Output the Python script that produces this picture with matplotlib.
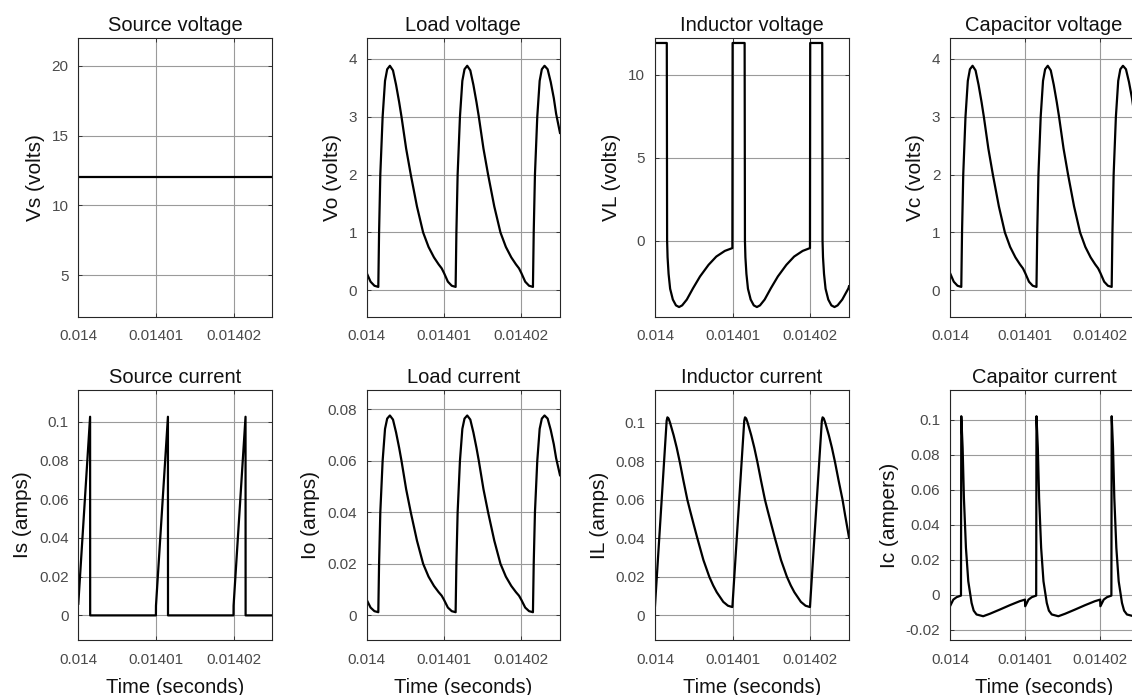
import matplotlib
matplotlib.use("Agg")
import matplotlib.pyplot as plt
import numpy as np

plt.rcParams['font.family'] = ['Liberation Sans', 'DejaVu Sans']

# time in microseconds after t = 0.014 s
x_ticks = [0.014, 0.01401, 0.01402]
x_tick_labels = ["0.014", "0.01401", "0.01402"]

vs_t = [0.0, 25.0]
vs_volts = [12.0, 12.0]

vo_t = [0.0, 0.5, 1.0, 1.5, 1.6, 1.76, 2.06, 2.37, 2.65, 3.0, 3.4, 3.8, 4.2, 4.5, 5.1, 5.7, 6.5, 7.3, 8.0, 8.7, 9.3, 9.7,
        10.0, 10.5, 11.0, 11.5, 11.6, 11.76, 12.06, 12.37, 12.65, 13.0, 13.4, 13.8, 14.2, 14.5, 15.1, 15.7, 16.5, 17.3, 18.0, 18.7, 19.3, 19.7,
        20.0, 20.5, 21.0, 21.5, 21.6, 21.76, 22.06, 22.37, 22.65, 23.0, 23.4, 23.8, 24.2, 24.5, 25.0]
vo_volts = [0.30, 0.15, 0.08, 0.06, 1.0, 2.0, 3.0, 3.62, 3.82, 3.88, 3.80, 3.55, 3.25, 3.0, 2.45, 2.0, 1.45, 1.0, 0.75, 0.57, 0.45, 0.38,
            0.30, 0.15, 0.08, 0.06, 1.0, 2.0, 3.0, 3.62, 3.82, 3.88, 3.80, 3.55, 3.25, 3.0, 2.45, 2.0, 1.45, 1.0, 0.75, 0.57, 0.45, 0.38,
            0.30, 0.15, 0.08, 0.06, 1.0, 2.0, 3.0, 3.62, 3.82, 3.88, 3.82, 3.60, 3.32, 3.05, 2.72]

# capacitor sits across the load, reads the same as vo
vc_t = vo_t
vc_volts = vo_volts

vl_t = [0.0, 1.52, 1.56, 1.62, 1.75, 1.95, 2.3, 2.7, 3.1, 3.5, 4.1, 4.9, 5.8, 6.9, 7.9, 9.0, 9.97,
        10.0, 11.55, 11.59, 11.65, 11.78, 11.98, 12.33, 12.73, 13.13, 13.53, 14.13, 14.93, 15.83, 16.93, 17.93, 19.03, 19.97,
        20.0, 21.55, 21.59, 21.65, 21.78, 21.98, 22.33, 22.73, 23.13, 23.53, 24.13, 24.93, 25.0]
vl_volts = [11.9, 11.9, 0.0, -1.0, -2.0, -2.9, -3.55, -3.9, -4.0, -3.9, -3.55, -2.87, -2.16, -1.46, -0.96, -0.62, -0.45,
            11.9, 11.9, 0.0, -1.0, -2.0, -2.9, -3.55, -3.9, -4.0, -3.9, -3.55, -2.87, -2.16, -1.46, -0.96, -0.62, -0.45,
            11.9, 11.9, 0.0, -1.0, -2.0, -2.9, -3.55, -3.9, -4.0, -3.9, -3.55, -2.87, -2.75]

is_t = [0.0, 1.52, 1.53, 10.0, 10.01, 11.55, 11.56, 20.0, 20.01, 21.55, 21.56, 25.0]
is_amps = [0.006, 0.1025, 0.0, 0.0, 0.005, 0.1025, 0.0, 0.0, 0.005, 0.1025, 0.0, 0.0]

io_t = vo_t
io_amps = [0.0060, 0.0030, 0.0016, 0.0012, 0.020, 0.040, 0.060, 0.0724, 0.0764, 0.0776, 0.0760, 0.0710, 0.0650, 0.060, 0.049, 0.040, 0.029, 0.020, 0.015, 0.0114, 0.009, 0.0076,
           0.0060, 0.0030, 0.0016, 0.0012, 0.020, 0.040, 0.060, 0.0724, 0.0764, 0.0776, 0.0760, 0.0710, 0.0650, 0.060, 0.049, 0.040, 0.029, 0.020, 0.015, 0.0114, 0.009, 0.0076,
           0.0060, 0.0030, 0.0016, 0.0012, 0.020, 0.040, 0.060, 0.0724, 0.0764, 0.0776, 0.0764, 0.0720, 0.0664, 0.061, 0.0544]

il_t = [0.0, 1.5, 1.6, 1.75, 1.94, 2.4, 2.8, 3.2, 3.66, 4.17, 4.5, 5.0, 5.46, 6.24, 7.0, 7.5, 7.96, 8.8, 9.4, 9.97,
        11.5, 11.6, 11.75, 11.94, 12.4, 12.8, 13.2, 13.66, 14.17, 14.5, 15.0, 15.46, 16.24, 17.0, 17.5, 17.96, 18.8, 19.4, 19.97,
        21.5, 21.6, 21.75, 21.94, 22.4, 22.8, 23.2, 23.66, 24.17, 24.5, 25.0]
il_amps = [0.005, 0.1010, 0.1028, 0.1022, 0.1000, 0.0935, 0.0870, 0.0795, 0.0700, 0.0600, 0.0547, 0.0470, 0.0400, 0.0287, 0.0200, 0.0155, 0.0120, 0.0070, 0.0050, 0.0043,
           0.1010, 0.1028, 0.1022, 0.1000, 0.0935, 0.0870, 0.0795, 0.0700, 0.0600, 0.0547, 0.0470, 0.0400, 0.0287, 0.0200, 0.0155, 0.0120, 0.0070, 0.0050, 0.0043,
           0.1010, 0.1028, 0.1022, 0.1000, 0.0935, 0.0870, 0.0795, 0.0700, 0.0600, 0.0520, 0.0405]

ic_t = [0.0, 0.44, 0.88, 1.46, 1.5, 1.68, 1.85, 2.12, 2.43, 2.87, 3.15, 3.53, 4.41, 5.3, 6.62, 7.95, 9.27, 9.97,
        10.0, 10.44, 10.88, 11.46, 11.5, 11.68, 11.85, 12.12, 12.43, 12.87, 13.15, 13.53, 14.41, 15.3, 16.62, 17.95, 19.27, 19.97,
        20.0, 20.44, 20.88, 21.46, 21.5, 21.68, 21.85, 22.12, 22.43, 22.87, 23.15, 23.53, 24.41, 25.0]
ic_amps = [-0.0067, -0.0029, -0.0015, -0.0006, 0.102, 0.0838, 0.0552, 0.0267, 0.0076, -0.0048, -0.0092, -0.0114, -0.0124, -0.0110, -0.0086, -0.0061, -0.0038, -0.0029,
           -0.0067, -0.0029, -0.0015, -0.0006, 0.102, 0.0838, 0.0552, 0.0267, 0.0076, -0.0048, -0.0092, -0.0114, -0.0124, -0.0110, -0.0086, -0.0061, -0.0038, -0.0029,
           -0.0067, -0.0029, -0.0015, -0.0006, 0.102, 0.0838, 0.0552, 0.0267, 0.0076, -0.0048, -0.0092, -0.0114, -0.0124, -0.0117]

panels = [
    # title, ylabel, t, y, ylim, yticks, yticklabels
    ("Source voltage", "Vs (volts)", vs_t, vs_volts, (2, 22), [5, 10, 15, 20], ["5", "10", "15", "20"]),
    ("Load voltage", "Vo (volts)", vo_t, vo_volts, (-0.46, 4.36), [0, 1, 2, 3, 4], ["0", "1", "2", "3", "4"]),
    ("Inductor voltage", "VL (volts)", vl_t, vl_volts, (-4.6, 12.2), [0, 5, 10], ["0", "5", "10"]),
    ("Capacitor voltage", "Vc (volts)", vc_t, vc_volts, (-0.46, 4.36), [0, 1, 2, 3, 4], ["0", "1", "2", "3", "4"]),
    ("Source current", "Is (amps)", is_t, is_amps, (-0.0127, 0.1163), [0, 0.02, 0.04, 0.06, 0.08, 0.1], ["0", "0.02", "0.04", "0.06", "0.08", "0.1"]),
    ("Load current", "Io (amps)", io_t, io_amps, (-0.0096, 0.0875), [0, 0.02, 0.04, 0.06, 0.08], ["0", "0.02", "0.04", "0.06", "0.08"]),
    ("Inductor current", "IL (amps)", il_t, il_amps, (-0.0128, 0.117), [0, 0.02, 0.04, 0.06, 0.08, 0.1], ["0", "0.02", "0.04", "0.06", "0.08", "0.1"]),
    ("Capaitor current", "Ic (ampers)", ic_t, ic_amps, (-0.026, 0.117), [-0.02, 0, 0.02, 0.04, 0.06, 0.08, 0.1], ["-0.02", "0", "0.02", "0.04", "0.06", "0.08", "0.1"]),
]

W, H = 1132, 695
col_left = [78.3, 366.7, 655, 950]
col_width = [194, 193.3, 194, 188]
row_top = [38, 390]
row_bottom = [317, 640]

fig = plt.figure(figsize=(W / 100, H / 100), dpi=100)

for i, (title, ylabel, t, y, ylim, yticks, ylabels) in enumerate(panels):
    r, c = divmod(i, 4)
    ax = fig.add_axes([col_left[c] / W, 1 - row_bottom[r] / H,
                       col_width[c] / W, (row_bottom[r] - row_top[r]) / H])
    x = 0.014 + np.array(t) * 1e-6
    ax.plot(x, y, color="black", lw=1.6)
    ax.set_xlim(0.014, 0.014025)
    ax.set_ylim(*ylim)
    ax.set_xticks(x_ticks)
    ax.set_xticklabels(x_tick_labels)
    ax.set_yticks(yticks)
    ax.set_yticklabels(ylabels)
    ax.grid(True, color="#9a9a9a", lw=0.8)
    ax.set_axisbelow(True)
    ax.tick_params(direction="in", length=3, width=0.6, colors="#262626",
                   labelcolor="#4a4a4a", labelsize=11, pad=7,
                   top=True, right=True)
    ax.tick_params(axis="x", pad=9)
    for s in ax.spines.values():
        s.set_color("#262626")
        s.set_linewidth(0.8)
    ax.set_title(title, fontsize=14.5, color="#111111", pad=5)
    ax.set_ylabel(ylabel, fontsize=15, color="#111111", labelpad=5)
    if r == 1:
        ax.set_xlabel("Time (seconds)", fontsize=14.5, color="#111111", labelpad=8)

fig.savefig("out.png", dpi=100, facecolor="white")
